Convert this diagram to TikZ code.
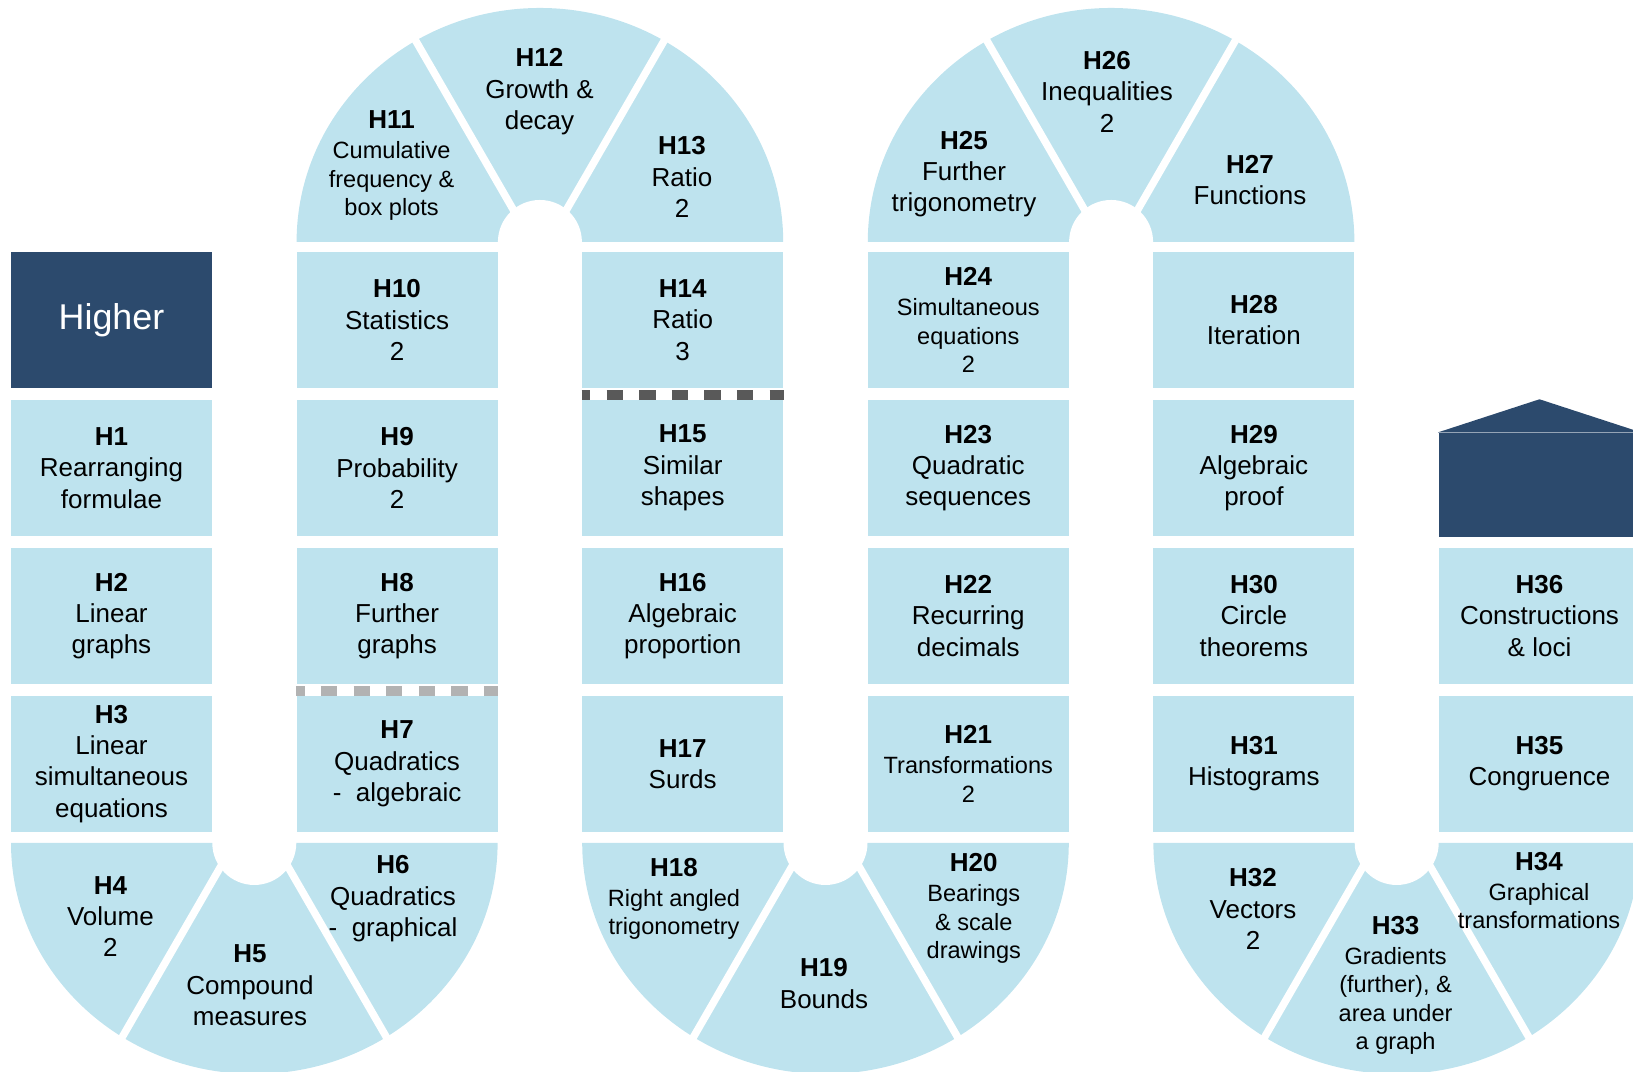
\documentclass[tikz,border=0pt]{standalone}
\usepackage{fontspec}
\setmainfont{Liberation Sans}
\usepackage{tikz}
\usetikzlibrary{calc}
\definecolor{tileblue}{RGB}{190,227,238}
\definecolor{navy}{RGB}{44,74,109}
\definecolor{lightsep}{RGB}{178,178,178}
\definecolor{darksep}{RGB}{89,89,89}
\newcommand{\bodyfont}{\fontsize{7.4pt}{8.9pt}\selectfont}
\newcommand{\smallfont}{\fontsize{6.7pt}{8.1pt}\selectfont}
\newcommand{\unitcode}[1]{{\bodyfont\bfseries #1}}
\tikzset{%
  mybox/.style={rectangle, fill=tileblue, minimum width=2.01cm, minimum height=1.36cm, inner sep=0pt, align=center, font=\bodyfont},
  mydarkbox/.style={mybox, fill=navy, text=white, font=\fontsize{10.2pt}{12pt}\selectfont},
  mylabel/.style={inner sep=0pt, align=center, font=\bodyfont}
}

\begin{document}
\begin{tikzpicture}
  \tikzset{mygap/.style={white, line width=0.075cm}};
  \tikzset{mydash/.style={line width=0.1cm, dash pattern=on 0.163cm off 0.163cm, dash phase=0.075cm}};

\useasboundingbox (0,0) rectangle (16.33,10.72);
\clip (0,0) rectangle (16.33,10.72);

\foreach \i in {1,2,3,4,5,6} {
  \foreach \j in {0,1,2,3} {
    \coordinate [] (P\i\j) at ({1.115+2.856*(\i-1)}, {7.52-1.48*\j});
  }
}

% U-Bogen
\foreach \cx/\cy/\s/\ry/\off in {2.543/2.29/-1/2.31/0.2, 8.255/2.29/-1/2.31/0.2, 13.967/2.29/-1/2.31/0.2, 5.399/8.30/1/2.34/0.08, 11.111/8.30/1/2.34/0.08} {
  \coordinate (U) at (\cx,\cy);
  \fill [tileblue] ($(U)+(2.433,0)$) arc [start angle=0, end angle={180*\s}, x radius=2.433, y radius=\ry] -- cycle;
  \draw [mygap] ($(U)+(\off,0)$) -- +({60*\s}:2.7);
  \draw [mygap] ($(U)-(\off,0)$) -- +({120*\s}:2.7);
  \fill [white] (U) circle [radius=0.42];
}

\node (higher) [mydarkbox] at (P10) {Higher};
\node (h1) [mybox] at (P11) {\textbf{H1}\\Rearranging\\formulae};
\node (h2) [mybox] at (P12) {\textbf{H2}\\Linear\\graphs};
\node (h3) [mybox] at (P13) {\textbf{H3}\\Linear\\simultaneous\\equations};

\node (h10) [mybox] at (P20) {\textbf{H10}\\Statistics\\2};
\node (h9) [mybox] at (P21) {\textbf{H9}\\Probability\\2};
\node (h8) [mybox] at (P22) {\textbf{H8}\\Further\\graphs};
\node (h7) [mybox] at (P23) {\textbf{H7}\\Quadratics\\-\ \ algebraic};

\node (h14) [mybox] at (P30) {\textbf{H14}\\Ratio\\3};
\node (h15) [mybox] at (P31) {\textbf{H15}\\Similar\\shapes};
\node (h16) [mybox] at (P32) {\textbf{H16}\\Algebraic\\proportion};
\node (h17) [mybox] at (P33) {\textbf{H17}\\Surds};

\node (h24) [mybox, font=\smallfont] at (P40) {\unitcode{H24}\\[0.5pt]Simultaneous\\equations\\2};
\node (h23) [mybox] at (P41) {\textbf{H23}\\Quadratic\\sequences};
\node (h22) [mybox] at (P42) {\textbf{H22}\\Recurring\\decimals};
\node (h21) [mybox, font=\smallfont] at (P43) {\unitcode{H21}\\[0.5pt]Transformations\\2};

\node (h28) [mybox] at (P50) {\textbf{H28}\\Iteration};
\node (h29) [mybox] at (P51) {\textbf{H29}\\Algebraic\\proof};
\node (h30) [mybox] at (P52) {\textbf{H30}\\Circle\\theorems};
\node (h31) [mybox] at (P53) {\textbf{H31}\\Histograms};

\node (house) [mydarkbox, minimum height=1.04cm] at (15.395, 5.87) {};
\node (h36) [mybox] at (P62) {\textbf{H36}\\Constructions\\\&\ loci};
\node (h35) [mybox] at (P63) {\textbf{H35}\\Congruence};

\fill [navy] (house.north west) -- ([yshift=0.33cm]house.north) -- (house.north east) -- cycle;
\draw [navy!50!white, line width=0.3pt] (house.north west) -- (house.north east);

\draw [mydash, lightsep] ([yshift=-0.06cm]h8.south west) -- ([yshift=-0.06cm]h8.south east);
\draw [mydash, darksep] ([yshift=-0.06cm]h14.south west) -- ([yshift=-0.06cm]h14.south east);

\node (h4) [mylabel] at (1.104, 1.555) {\textbf{H4}\\Volume\\2};
\node (h5) [mylabel] at (2.50, 0.867) {\textbf{H5}\\Compound\\measures};
\node (h6) [mylabel] at (3.93, 1.732) {\textbf{H6}\\Quadratics\\-\ \ graphical};

\node (h11) [mylabel, font=\smallfont] at (3.916, 9.064) {\unitcode{H11}\\[0.5pt]Cumulative\\frequency \&\\box plots};
\node (h12) [mylabel] at (5.395, 9.803) {\textbf{H12}\\Growth \&\\decay};
\node (h13) [mylabel] at (6.82, 8.95) {\textbf{H13}\\Ratio\\2};

\node (h18) [mylabel, font=\smallfont] at (6.74, 1.732) {\unitcode{H18}\\[0.5pt]Right angled\\trigonometry};
\node (h19) [mylabel] at (8.24, 0.883) {\textbf{H19}\\Bounds};
\node (h20) [mylabel, font=\smallfont] at (9.738, 1.633) {\unitcode{H20}\\[0.5pt]Bearings\\\&\ scale\\drawings};

\node (h25) [mylabel] at (9.64, 8.98) {\textbf{H25}\\Further\\trigonometry};
\node (h26) [mylabel] at (11.07, 9.803) {\textbf{H26}\\Inequalities\\2};
\node (h27) [mylabel] at (12.50, 8.92) {\textbf{H27}\\Functions};

\node (h32) [mylabel] at (12.53, 1.63) {\textbf{H32}\\Vectors\\2};
\node (h33) [mylabel, font=\smallfont] at (13.956, 0.867) {\unitcode{H33}\\[0.5pt]Gradients\\(further), \&\\area under\\a graph};
\node (h34) [mylabel, font=\smallfont] at (15.39, 1.815) {\unitcode{H34}\\[0.5pt]Graphical\\transformations};
\end{tikzpicture}
\end{document}
